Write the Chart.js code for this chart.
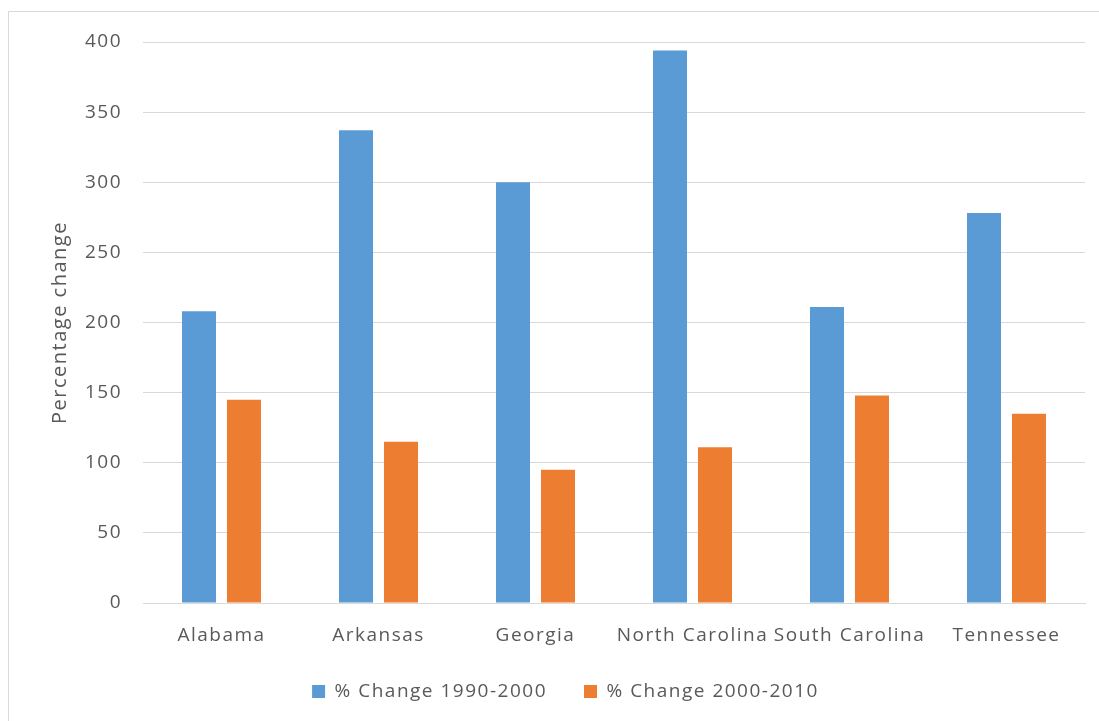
<!DOCTYPE html>
<html>
<head>
<meta charset="utf-8">
<script src="https://cdn.jsdelivr.net/npm/chart.js@4"></script>
<style>
  html, body { margin: 0; padding: 0; background: #ffffff; }
  #wrap { width: 1099px; height: 721px; position: relative; }
</style>
</head>
<body>
<div id="wrap"><canvas id="chart" width="1099" height="721"></canvas></div>
<script>
// Population growth by state, percentage change
const states = ['Alabama', 'Arkansas', 'Georgia', 'North Carolina', 'South Carolina', 'Tennessee'];
const change1990to2000 = [208, 337, 300, 394, 211, 278];
const change2000to2010 = [145, 115, 95, 111, 148, 135];
const seriesNames = ['% Change 1990-2000', '% Change 2000-2010'];
const yTicks = [0, 50, 100, 150, 200, 250, 300, 350, 400];
const yTitle = 'Percentage change';

const TEXT = '#595959';
const GRID = '#d9d9d9';
const FONT = "'Open Sans', 'DejaVu Sans', sans-serif";
const SPACING = '1.5px';

// Wide letter spacing for all chart text, plus the light frame around the chart
const framePlugin = {
  id: 'frame',
  beforeLayout(chart) { chart.ctx.letterSpacing = SPACING; },
  beforeDraw(chart) {
    const ctx = chart.ctx;
    ctx.save();
    ctx.fillStyle = '#ffffff';
    ctx.fillRect(0, 0, chart.width, chart.height);
    ctx.strokeStyle = GRID;
    ctx.lineWidth = 1;
    ctx.beginPath();
    ctx.moveTo(8.5, chart.height);
    ctx.lineTo(8.5, 11.5);
    ctx.lineTo(chart.width, 11.5);
    ctx.stroke();
    ctx.restore();
    ctx.letterSpacing = SPACING;
  }
};

new Chart(document.getElementById('chart'), {
  type: 'bar',
  data: {
    labels: states,
    datasets: [
      { label: seriesNames[0], data: change1990to2000, backgroundColor: '#5B9BD5',
        barPercentage: 0.756, categoryPercentage: 0.573 },
      { label: seriesNames[1], data: change2000to2010, backgroundColor: '#ED7D31',
        barPercentage: 0.756, categoryPercentage: 0.573 }
    ]
  },
  options: {
    responsive: false,
    animation: false,
    layout: { padding: { left: 46, right: 14, top: 42, bottom: 10 } },
    plugins: {
      tooltip: { enabled: false },
      legend: {
        position: 'bottom',
        labels: {
          boxWidth: 13, boxHeight: 13, padding: 37,
          color: TEXT, font: { family: FONT, size: 19 }
        }
      }
    },
    scales: {
      x: {
        grid: { display: false },
        border: { display: true, color: GRID, width: 1 },
        ticks: {
          color: TEXT, font: { family: FONT, size: 19 },
          padding: 13, autoSkip: false, maxRotation: 0, minRotation: 0
        },
        afterFit(scale) { scale.height = 42; }
      },
      y: {
        min: 0, max: 400,
        afterBuildTicks(scale) { scale.ticks = yTicks.map(v => ({ value: v })); },
        grid: { color: GRID, lineWidth: 1, drawTicks: false },
        border: { display: false },
        ticks: { color: TEXT, font: { family: FONT, size: 19 }, padding: 21 },
        title: {
          display: true, text: yTitle, color: TEXT,
          font: { family: FONT, size: 20 }, padding: { top: 2, bottom: 0 }
        },
        afterFit(scale) { scale.width = 97; }
      }
    }
  },
  plugins: [framePlugin]
});
</script>
</body>
</html>
